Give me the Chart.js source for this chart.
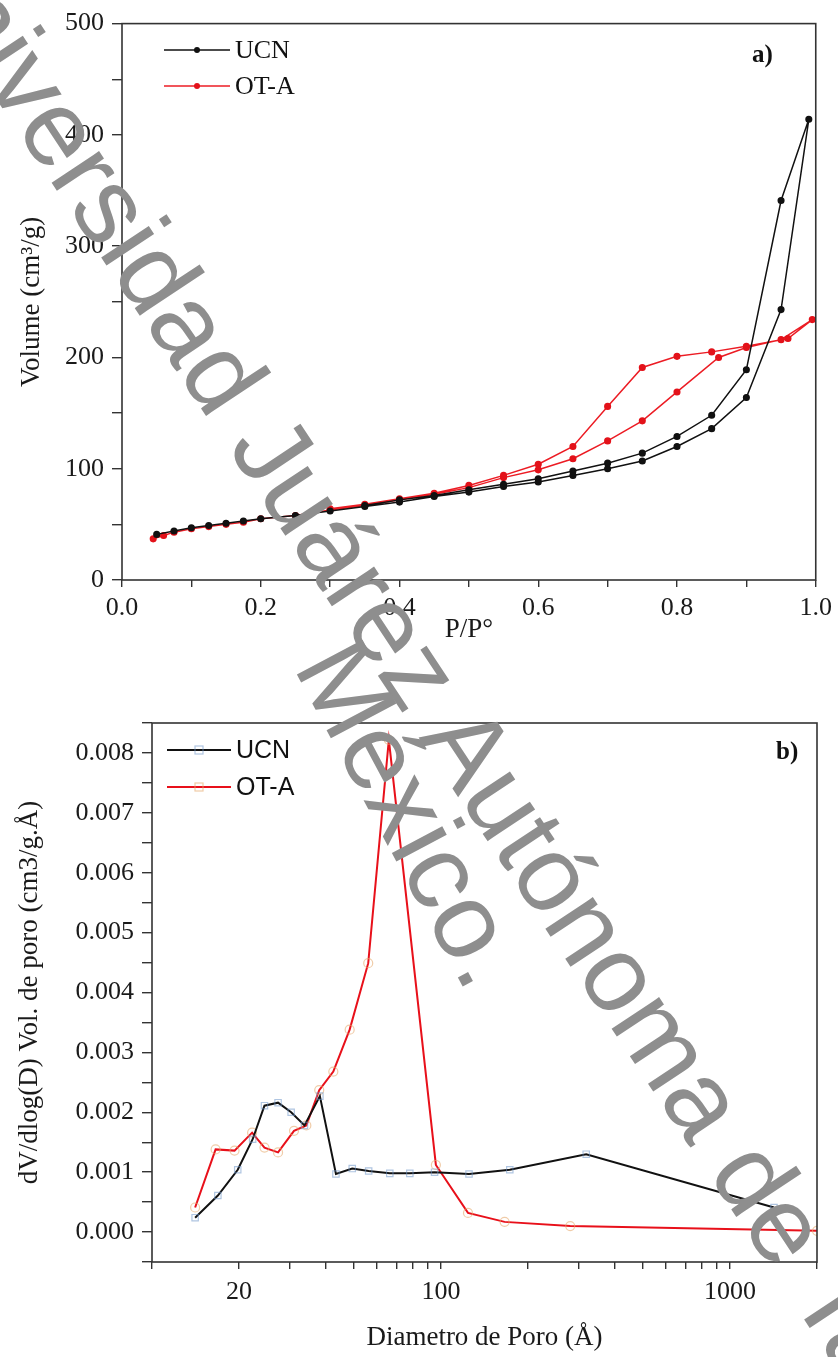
<!DOCTYPE html>
<html>
<head>
<meta charset="utf-8">
<script src="https://cdn.jsdelivr.net/npm/chart.js@4.4.1/dist/chart.umd.min.js"></script>
<style>
  body { margin: 0; background: #fff; width: 838px; height: 1357px; overflow: hidden; position: relative; }
  .caja { position: absolute; left: 0; width: 838px; }
  #cajaA { top: 0; height: 660px; }
  #cajaB { top: 660px; height: 697px; }
  .marca { position: absolute; white-space: nowrap; color: #8e8e8e; font-family: "Liberation Sans", sans-serif;
           font-size: 108px; line-height: 1; transform-origin: 0 0; pointer-events: none; }
</style>
</head>
<body>
<div class="caja" id="cajaA"><canvas id="isoterma"></canvas></div>
<div class="caja" id="cajaB"><canvas id="poros"></canvas></div>
<div class="marca" style="left:-29px; top:-104px; transform: rotate(56.5deg);">Universidad Juárez Autónoma de Tabasco.</div>
<div class="marca" style="left:373px; top:624px; transform: rotate(62deg);">México.</div>
<script>
// a) isoterma de adsorcion-desorcion
var ucnAdsP = [0.05, 0.075, 0.1, 0.125, 0.15, 0.175, 0.2, 0.25, 0.3, 0.35, 0.4, 0.45, 0.5, 0.55, 0.6, 0.65, 0.7, 0.75, 0.8, 0.85, 0.9, 0.95, 0.99];
var ucnAdsV = [41, 44, 47, 49, 51, 53, 55, 58, 62, 66, 70, 75, 79, 84, 88, 94, 100, 107, 120, 136, 164, 243, 414];
var ucnDesP = [0.95, 0.9, 0.85, 0.8, 0.75, 0.7, 0.65, 0.6, 0.55, 0.5, 0.45, 0.4, 0.35];
var ucnDesV = [341, 189, 148, 129, 114, 105, 98, 91, 86, 81, 76, 72, 67];
var otaAdsP = [0.045, 0.06, 0.075, 0.1, 0.125, 0.15, 0.175, 0.2, 0.25, 0.3, 0.35, 0.4, 0.45, 0.5, 0.55, 0.6, 0.65, 0.7, 0.75, 0.8, 0.86, 0.9, 0.95, 0.995];
var otaAdsV = [37, 40, 43, 46, 48, 50, 52, 55, 58, 63, 67, 72, 77, 83, 92, 99, 109, 125, 143, 169, 200, 209, 216, 234];
var otaDesP = [0.96, 0.9, 0.85, 0.8, 0.75, 0.7, 0.65, 0.6, 0.55, 0.5, 0.45, 0.4, 0.35, 0.3];
var otaDesV = [217, 210, 205, 201, 191, 156, 120, 104, 94, 85, 78, 73, 68, 64];

// b) distribucion de poro
var ucnDiam = [14.1, 16.9, 19.8, 22.3, 24.5, 27.3, 30.3, 33.7, 38.1, 43.3, 49.3, 56.2, 66.5, 78, 95, 125, 173, 318, 1420];
var ucnDv = [0.00024, 0.00061, 0.00104, 0.00155, 0.00211, 0.00216, 0.002, 0.00178, 0.00227, 0.00097, 0.00106, 0.00102, 0.00098, 0.00098, 0.001, 0.00097, 0.00104, 0.0013, 0.00041];
var otaDiam = [14.1, 16.6, 19.3, 22.2, 24.5, 27.3, 31, 34.2, 37.9, 42.4, 48.3, 56, 66, 96, 124, 166, 280, 2000];
var otaDv = [0.00041, 0.00138, 0.00136, 0.00166, 0.00141, 0.00133, 0.00169, 0.00178, 0.00237, 0.00268, 0.00338, 0.00449, 0.00822, 0.00112, 0.00032, 0.00017, 0.0001, 0.00002];

var etiquetasLog = [20, 100, 1000];

function puntos(xs, ys) {
    return xs.map((x, i) => ({ x: x, y: ys[i] }));
}

Chart.defaults.font.family = '"Liberation Serif", "Times New Roman", serif';
Chart.defaults.color = '#1a1a1a';
Chart.defaults.animation = false;

// marco alrededor del area de trazado
var marco = {
    id: 'marco',
    afterDraw(chart) {
        var a = chart.chartArea, ctx = chart.ctx;
        ctx.save();
        ctx.strokeStyle = '#333';
        ctx.lineWidth = 1.6;
        ctx.strokeRect(a.left, a.top, a.right - a.left, a.bottom - a.top);
        ctx.restore();
    }
};

// leyenda con linea + marcador, y letra del panel
var leyenda = {
    id: 'leyenda',
    afterDraw(chart, args, o) {
        var ctx = chart.ctx;
        chart.data.datasets.forEach((ds, i) => {
            var y = o.y + i * o.gap;
            ctx.save();
            ctx.strokeStyle = ds.borderColor;
            ctx.lineWidth = ds.borderWidth;
            ctx.beginPath();
            ctx.moveTo(o.x, y);
            ctx.lineTo(o.x + o.len, y);
            ctx.stroke();
            var mx = o.x + o.len / 2;
            if (o.hueco) {
                ctx.strokeStyle = ds.pointBorderColor;
                ctx.lineWidth = 1.2;
                ctx.strokeRect(mx - 4, y - 4, 8, 8);
            } else {
                ctx.fillStyle = ds.pointBackgroundColor;
                ctx.beginPath();
                ctx.arc(mx, y, 3, 0, Math.PI * 2);
                ctx.fill();
            }
            ctx.fillStyle = '#111';
            ctx.font = o.font;
            ctx.textBaseline = 'middle';
            ctx.fillText(ds.label, o.x + o.len + 5, y + 1);
            ctx.restore();
        });
        ctx.save();
        ctx.fillStyle = '#111';
        ctx.font = 'bold 25px "Liberation Serif", serif';
        ctx.textBaseline = 'middle';
        ctx.fillText(o.panel, o.px, o.py);
        ctx.restore();
    }
};

new Chart(document.getElementById('isoterma'), {
    type: 'scatter',
    data: {
        datasets: [{
            label: 'UCN',
            data: puntos(ucnAdsP.concat(ucnDesP), ucnAdsV.concat(ucnDesV)),
            showLine: true,
            borderColor: '#111',
            borderWidth: 1.5,
            pointBackgroundColor: '#111',
            pointBorderColor: '#111',
            pointRadius: 2.8
        }, {
            label: 'OT-A',
            data: puntos(otaAdsP.concat(otaDesP), otaAdsV.concat(otaDesV)),
            showLine: true,
            borderColor: '#ec1c24',
            borderWidth: 1.5,
            pointBackgroundColor: '#e3121a',
            pointBorderColor: '#e3121a',
            pointRadius: 2.8
        }]
    },
    options: {
        responsive: true,
        maintainAspectRatio: false,
        layout: { padding: { left: 10, top: 22, right: 21, bottom: 0 } },
        plugins: {
            legend: { display: false },
            tooltip: { enabled: false },
            leyenda: { x: 164, y: 50, gap: 36, len: 66, font: '26px "Liberation Serif", serif', panel: 'a)', px: 752, py: 56 }
        },
        scales: {
            x: {
                type: 'linear', min: 0, max: 1,
                ticks: { stepSize: 0.1, padding: 6, font: { size: 26 }, maxRotation: 0, autoSkip: false,
                    callback: v => Math.round(v * 10) % 2 === 0 ? v.toFixed(1) : '' },
                grid: { drawOnChartArea: false, tickLength: 7, color: '#333', lineWidth: 1.4 },
                border: { display: false },
                title: { display: true, text: 'P/P°', font: { size: 27 }, padding: { top: 0, bottom: 14 } },
                afterFit: s => { s.height = 80; }
            },
            y: {
                min: 0, max: 500,
                ticks: { stepSize: 50, padding: 8, font: { size: 26 }, autoSkip: false,
                    callback: v => v % 100 === 0 ? v : '' },
                grid: { drawOnChartArea: false, tickLength: 10, color: '#333', lineWidth: 1.4 },
                border: { display: false },
                title: { display: true, text: 'Volume (cm³/g)', font: { size: 27 }, padding: { top: 6 } },
                afterFit: s => { s.width = 112; }
            }
        }
    },
    plugins: [marco, leyenda]
});

new Chart(document.getElementById('poros'), {
    type: 'scatter',
    data: {
        datasets: [{
            label: 'UCN',
            data: puntos(ucnDiam, ucnDv),
            showLine: true,
            borderColor: '#111',
            borderWidth: 2,
            pointStyle: 'rect',
            pointBackgroundColor: 'rgba(0,0,0,0)',
            pointBorderColor: 'rgba(110,150,200,0.55)',
            pointBorderWidth: 1.2,
            pointRadius: 4.5
        }, {
            label: 'OT-A',
            data: puntos(otaDiam, otaDv),
            showLine: true,
            borderColor: '#e8101a',
            borderWidth: 2,
            pointStyle: 'circle',
            pointBackgroundColor: 'rgba(0,0,0,0)',
            pointBorderColor: 'rgba(230,170,110,0.6)',
            pointBorderWidth: 1.2,
            pointRadius: 4.5
        }]
    },
    options: {
        responsive: true,
        maintainAspectRatio: false,
        layout: { padding: { left: 10, top: 63, right: 21, bottom: 0 } },
        plugins: {
            legend: { display: false },
            tooltip: { enabled: false },
            leyenda: { x: 167, y: 90, gap: 37, len: 64, hueco: true, font: '25px "Liberation Sans", sans-serif', panel: 'b)', px: 776, py: 93 }
        },
        scales: {
            x: {
                type: 'logarithmic', min: 10, max: 2000,
                afterBuildTicks: s => { s.ticks = s.ticks.filter(t => t.value !== 150 && t.value !== 1500); },
                ticks: { padding: 8, font: { size: 26 }, maxRotation: 0, autoSkip: false,
                    callback: v => etiquetasLog.includes(v) ? String(v) : '' },
                grid: { drawOnChartArea: false, tickLength: 7, color: '#333', lineWidth: 1.4 },
                border: { display: false },
                title: { display: true, text: 'Diametro de Poro (Å)', font: { size: 27 }, padding: { top: 0, bottom: 3 } },
                afterFit: s => { s.height = 95; }
            },
            y: {
                min: -0.0005, max: 0.0085,
                ticks: { stepSize: 0.0005, padding: 8, font: { size: 26 }, autoSkip: false,
                    callback: v => Math.round(v * 10000) % 10 === 0 ? v.toFixed(3) : '' },
                grid: { drawOnChartArea: false, tickLength: 10, color: '#333', lineWidth: 1.4 },
                border: { display: false },
                title: { display: true, text: 'dV/dlog(D) Vol. de poro (cm3/g.Å)', font: { size: 27 }, padding: { top: 4 } },
                afterFit: s => { s.width = 142; }
            }
        }
    },
    plugins: [marco, leyenda]
});
</script>
</body>
</html>
